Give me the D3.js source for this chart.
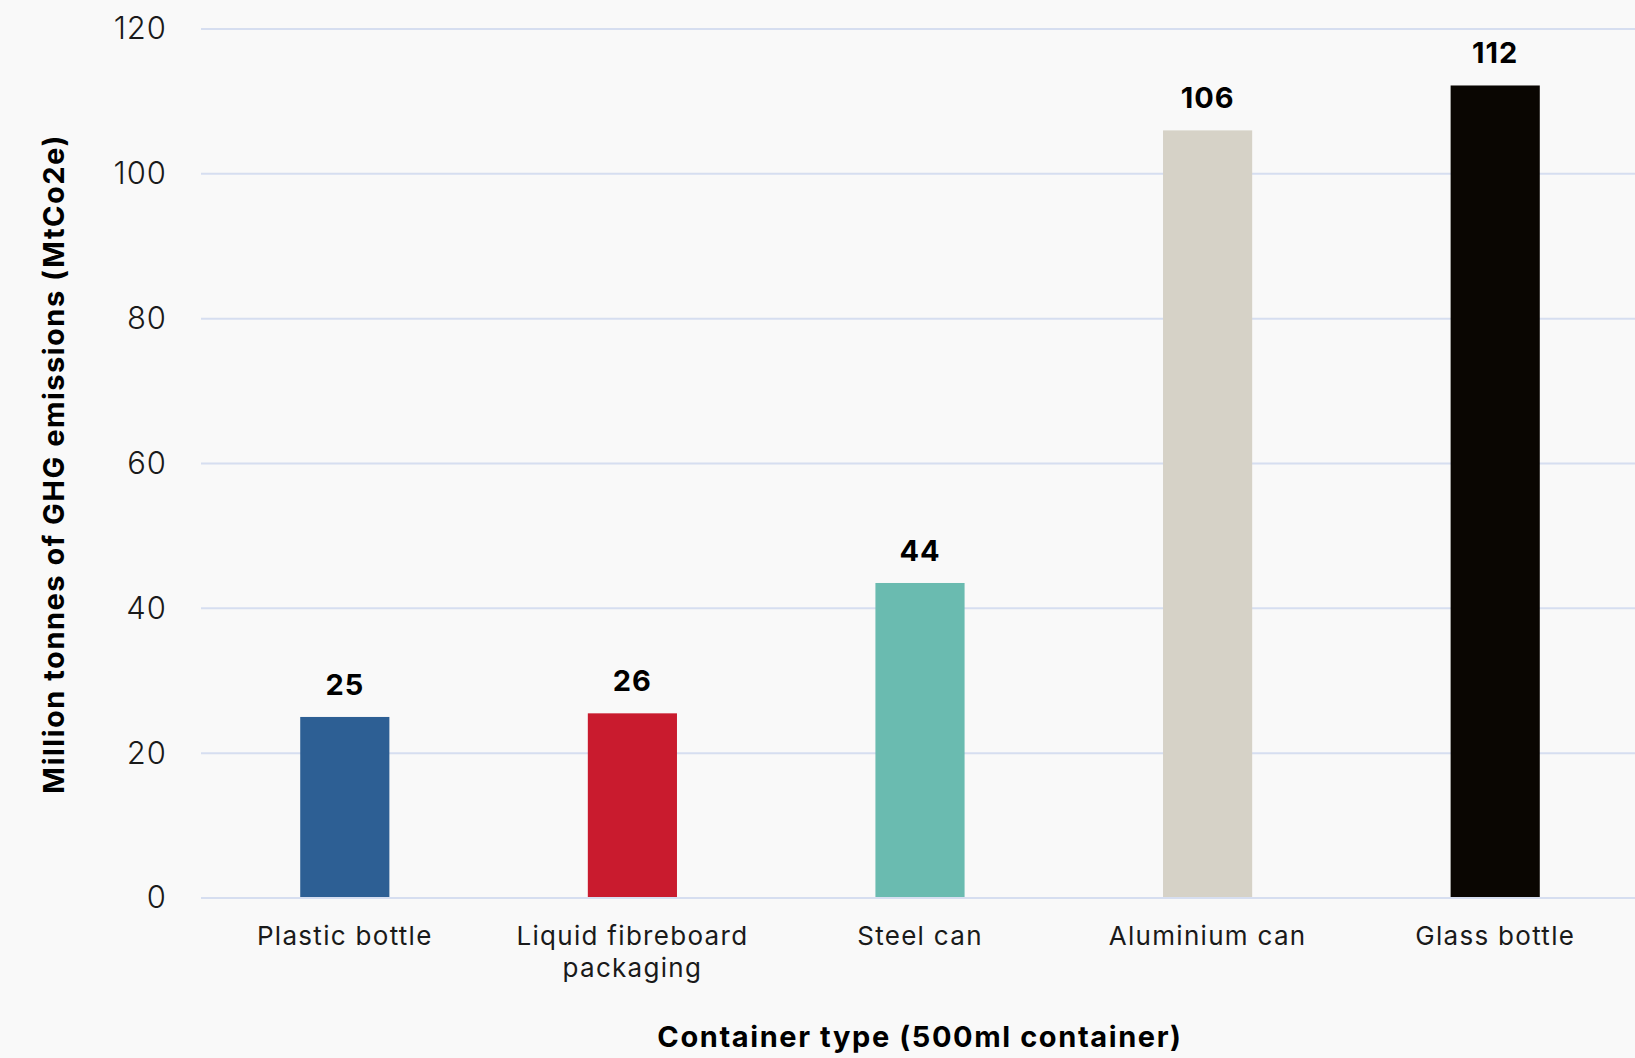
<!DOCTYPE html>
<html>
<head>
<meta charset="utf-8">
<script src="https://cdn.jsdelivr.net/npm/d3@7"></script>
<style>
  html, body { margin: 0; padding: 0; background: #f9f9f9; }
  svg { display: block; font-family: Inter, "Open Sans", sans-serif; }
</style>
</head>
<body>
<div id="chart"></div>
<script>
// data
var categories = ["Plastic bottle", "Liquid fibreboard packaging", "Steel can", "Aluminium can", "Glass bottle"];
var catLines = [["Plastic bottle"], ["Liquid fibreboard", "packaging"], ["Steel can"], ["Aluminium can"], ["Glass bottle"]];
var values = [25, 25.5, 43.5, 106, 112.2];
var barColors = ["#2d5f94", "#c91b2e", "#6abbb0", "#d6d2c7", "#0a0602"];
var yTicks = [0, 20, 40, 60, 80, 100, 120];

var W = 1635, H = 1058;
var margin = {top: 29, right: -4, bottom: 160, left: 201};
var width = W - margin.left - margin.right,
    height = H - margin.top - margin.bottom;

var svg = d3.select("#chart").append("svg")
    .attr("width", W)
    .attr("height", H);

svg.append("rect").attr("width", W).attr("height", H).attr("fill", "#f9f9f9");

var g = svg.append("g")
    .attr("transform", "translate(" + margin.left + "," + margin.top + ")");

var x = d3.scaleBand()
    .domain(categories)
    .range([0, width])
    .paddingInner(0.69)
    .paddingOuter(0.345);

var y = d3.scaleLinear()
    .domain([0, 120])
    .range([height, 0]);

// gridlines
g.append("g")
    .selectAll("line")
    .data(yTicks)
    .enter().append("line")
      .attr("x1", 0)
      .attr("x2", W - margin.left)
      .attr("y1", function(d) { return y(d); })
      .attr("y2", function(d) { return y(d); })
      .attr("stroke", "#d6def0")
      .attr("stroke-width", 2);

// y axis labels
var yAxis = g.append("g")
    .call(d3.axisLeft(y).tickValues(yTicks).tickSize(0).tickPadding(34));
yAxis.select(".domain").remove();
yAxis.selectAll("text")
    .attr("font-size", 31)
    .attr("font-weight", 300)
    .attr("letter-spacing", 1)
    .attr("fill", "#1a1a1a")
    .attr("font-family", "Inter, sans-serif");

// bars
g.selectAll(".bar")
    .data(values)
    .enter().append("rect")
      .attr("class", "bar")
      .attr("x", function(d, i) { return x(categories[i]); })
      .attr("width", x.bandwidth())
      .attr("y", function(d) { return y(d); })
      .attr("height", function(d) { return y(0) - y(d) - 1; })
      .attr("fill", function(d, i) { return barColors[i]; });

// value labels
g.selectAll(".val")
    .data(values)
    .enter().append("text")
      .attr("class", "val")
      .attr("x", function(d, i) { return x(categories[i]) + x.bandwidth() / 2; })
      .attr("y", function(d) { return y(d) - 22; })
      .attr("text-anchor", "middle")
      .attr("font-size", 29)
      .attr("font-weight", 700)
      .attr("letter-spacing", 1)
      .attr("fill", "#000")
      .text(function(d) { return Math.round(d); });

// category labels
var cat = g.selectAll(".cat")
    .data(catLines)
    .enter().append("text")
      .attr("class", "cat")
      .attr("x", function(d, i) { return x(categories[i]) + x.bandwidth() / 2; })
      .attr("y", height + 47)
      .attr("text-anchor", "middle")
      .attr("font-size", 26)
      .attr("font-weight", 400)
      .attr("letter-spacing", 1.3)
      .attr("fill", "#1a1a1a");
cat.selectAll("tspan")
    .data(function(d) { return d; })
    .enter().append("tspan")
      .attr("x", function() { return d3.select(this.parentNode).attr("x"); })
      .attr("dy", function(d, i) { return i === 0 ? 0 : 32; })
      .text(function(d) { return d; });

// axis titles
svg.append("text")
    .attr("x", margin.left + width / 2)
    .attr("y", 1047)
    .attr("text-anchor", "middle")
    .attr("font-size", 29)
    .attr("font-weight", 700)
    .attr("letter-spacing", 1.6)
    .attr("fill", "#000")
    .text("Container type (500ml container)");

svg.append("text")
    .attr("transform", "translate(64,464) rotate(-90)")
    .attr("text-anchor", "middle")
    .attr("font-size", 29)
    .attr("font-weight", 700)
    .attr("letter-spacing", 1.5)
    .attr("fill", "#000")
    .text("Million tonnes of GHG emissions (MtCo2e)");
</script>
</body>
</html>
